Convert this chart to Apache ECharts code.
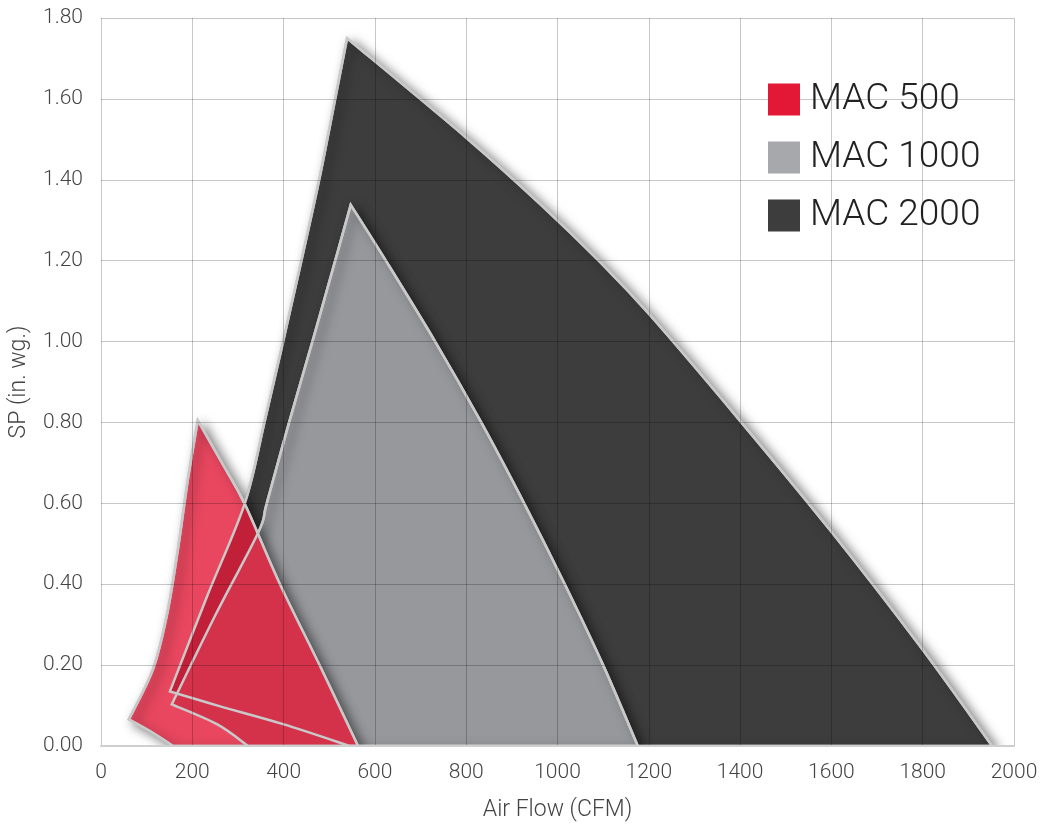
<!DOCTYPE html>
<html><head><meta charset="utf-8">
<script src="https://cdn.jsdelivr.net/npm/echarts@6/dist/echarts.min.js"></script>
<style>html,body{margin:0;padding:0;background:#fff}#c{width:1041px;height:827px}</style>
</head><body><div id="c"></div>
<script>
const seriesNames = ['MAC 500', 'MAC 1000', 'MAC 2000'];
const legendColors = ['#e31837', '#a7a8ab', '#3d3d3d'];

// MAC 500 outline (Air Flow CFM, SP in. wg.)
const mac500Right = [[212,0.805],[267,0.696],[315,0.598],[392,0.40],[480,0.197],[563,0]];
const mac500Base  = [[563,0],[158,0]];
const mac500Foot  = [[158,0],[107,0.037],[61,0.066]];
const mac500Left  = [[61,0.066],[114,0.19],[145,0.327],[169,0.49],[190,0.657],[212,0.805]];

// MAC 1000 outline
const mac1000Right = [[547,1.338],[624,1.2],[732,1.0],[833,0.8],[927,0.6],[1016,0.4],[1100,0.2],[1176,0]];
const mac1000Base  = [[1176,0],[322,0]];
const mac1000Foot  = [[322,0],[254,0.054],[155,0.103]];
const mac1000Left  = [[155,0.103],[252,0.327],[345,0.529],[363,0.6],[412,0.8],[463,1.0],[513,1.2],[547,1.338]];

// MAC 2000 outline
const mac2000Right = [[539,1.75],[797,1.507],[962,1.34],[1093,1.197],[1203,1.065],[1400,0.804],[1597,0.534],[1798,0.241],[1952,0]];
const mac2000Base  = [[1952,0],[545,0]];
const mac2000Foot  = [[545,0],[399,0.054],[261,0.098],[151,0.135]];
const mac2000Left  = [[151,0.135],[232,0.369],[315,0.6],[358,0.8],[399,1.0],[439,1.2],[478,1.4],[513,1.6],[539,1.75]];

const edges500  = [mac500Right, mac500Base, mac500Foot, mac500Left];
const edges1000 = [mac1000Right, mac1000Base, mac1000Foot, mac1000Left];
const edges2000 = [mac2000Right, mac2000Base, mac2000Foot, mac2000Left];

// red is 80% opaque: its look over white, over MAC 1000 and over MAC 2000
const redOverWhite = '#e8475f', redOverGray = '#d4324b', redOverDark = '#c21f38';
const OUTLINE = '#c9c9c9';
const SHADOW = {shadowBlur: 11, shadowColor: 'rgba(0,0,0,0.5)', shadowOffsetX: 5, shadowOffsetY: 4};

function buildPath(edges, api){
  let d = '';
  edges.forEach(function(edge, ei){
    const p = edge.map(function(v){ return api.coord(v); });
    if (ei === 0) d += 'M' + p[0][0] + ',' + p[0][1];
    for (let i = 0; i < p.length - 1; i++) {
      const p0 = p[Math.max(i-1,0)], p1 = p[i], p2 = p[i+1], p3 = p[Math.min(i+2,p.length-1)];
      const c1 = [p1[0] + (p2[0]-p0[0])/6, p1[1] + (p2[1]-p0[1])/6];
      const c2 = [p2[0] - (p3[0]-p1[0])/6, p2[1] - (p3[1]-p1[1])/6];
      d += ' C' + c1[0] + ',' + c1[1] + ' ' + c2[0] + ',' + c2[1] + ' ' + p2[0] + ',' + p2[1];
    }
  });
  return d + ' Z';
}

function renderPlain(edges, fill){
  return function(params, api){
    if (params.dataIndex !== 0) return null;
    const d = buildPath(edges, api);
    return {type:'path', shape:{pathData:d},
            style: Object.assign({fill: fill, stroke: OUTLINE, lineWidth: 2.5}, SHADOW)};
  };
}

function renderRed(params, api){
  if (params.dataIndex !== 0) return null;
  const dRed = buildPath(edges500, api);
  const dGray = buildPath(edges1000, api);
  const dDark = buildPath(edges2000, api);
  const clip = function(){ return {type:'path', shape:{pathData:dRed}}; };
  return {
    type:'group',
    children:[
      {type:'path', shape:{pathData:dRed}, style:Object.assign({fill:redOverWhite, stroke:OUTLINE, lineWidth:2.5}, SHADOW)},
      {type:'path', shape:{pathData:dDark}, clipPath:clip(), style:{fill:redOverDark}},
      {type:'path', shape:{pathData:dGray}, clipPath:clip(), style:{fill:redOverGray}},
      {type:'path', shape:{pathData:dDark}, style:{fill:'none', stroke:OUTLINE, lineWidth:2.5}},
      {type:'path', shape:{pathData:dGray}, style:{fill:'none', stroke:OUTLINE, lineWidth:2.5}},
      {type:'path', shape:{pathData:dRed}, style:{fill:'none', stroke:OUTLINE, lineWidth:2.5}}
    ]
  };
}

function flat(edges){ return [].concat.apply([], edges); }

const series = [
  {name:'MAC 2000', type:'custom', clip:true, itemStyle:{color:legendColors[2]}, encode:{x:0,y:1},
   data: flat(edges2000), renderItem: renderPlain(edges2000, '#3d3d3d')},
  {name:'MAC 1000', type:'custom', clip:true, itemStyle:{color:legendColors[1]}, encode:{x:0,y:1},
   data: flat(edges1000), renderItem: renderPlain(edges1000, '#97989c')},
  {name:'MAC 500', type:'custom', clip:true, itemStyle:{color:legendColors[0]}, encode:{x:0,y:1},
   data: flat(edges500), renderItem: renderRed}
];

const labelStyle = {fontFamily:'Roboto', fontWeight:300, fontSize:21, color:'#444'};
const nameStyle = {fontFamily:'Roboto', fontWeight:300, fontSize:23, color:'#444'};
const gridLine = {show:true, lineStyle:{color:'rgba(0,0,0,0.22)', width:1}};

const chart = echarts.init(document.getElementById('c'), null, {renderer:'canvas'});
chart.setOption({
  animation: false,
  backgroundColor: '#fff',
  grid: {left:101, right:27, top:18, bottom:77, containLabel:false},
  legend: {
    orient:'vertical', left:768, top:81, padding:0, itemWidth:32, itemHeight:32, itemGap:21, icon:'rect', z:6,
    selectedMode:false,
    textStyle:{fontFamily:'Roboto', fontWeight:300, fontSize:37, color:'#222', padding:[0,0,0,5]},
    data: seriesNames.map(function(n,i){ return {name:n, itemStyle:{color:legendColors[i], borderWidth:0}}; })
  },
  xAxis: {
    type:'value', min:0, max:2000, interval:200, z:5,
    name:'Air Flow (CFM)', nameLocation:'middle', nameGap:53,
    nameTextStyle:nameStyle,
    axisLine:{show:true, lineStyle:{color:'#cfcfcf', width:2}},
    axisTick:{show:false},
    axisLabel:Object.assign({margin:16, formatter:function(v){return String(v);}}, labelStyle),
    splitLine:gridLine
  },
  yAxis: {
    type:'value', min:0, max:1.8, interval:0.2, z:5,
    name:'SP (in. wg.)', nameLocation:'middle', nameGap:70,
    nameTextStyle:nameStyle,
    axisLine:{show:false},
    axisTick:{show:false},
    axisLabel:Object.assign({margin:18, formatter:function(v){return v.toFixed(2);}}, labelStyle),
    splitLine:gridLine
  },
  series: series
});
</script>
</body></html>
